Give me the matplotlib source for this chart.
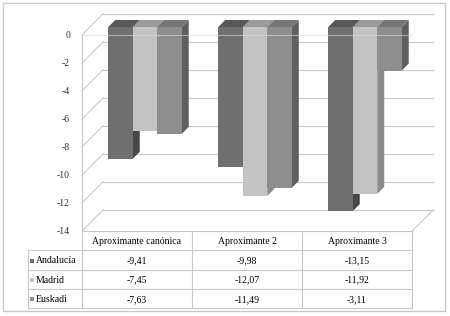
import numpy as np
import matplotlib.pyplot as plt
from matplotlib.patches import Polygon, Rectangle

categorias = ["Aproximante canónica", "Aproximante 2", "Aproximante 3"]
regiones = ["Andalucía", "Madrid", "Euskadi"]
andalucia = [-9.41, -9.98, -13.15]
madrid = [-7.45, -12.07, -11.92]
euskadi = [-7.63, -11.49, -3.11]
yticks = list(range(0, -16, -2))

# colores (frente, arriba, lado)
col_and = ("#6f6f6f", "#575757", "#474747")
col_mad = ("#c3c3c3", "#9a9a9a", "#8a8a8a")
col_eus = ("#8e8e8e", "#777777", "#5f5f5f")
grid = "#c8c8c8"

plt.rcParams['font.family'] = ['Liberation Serif', 'DejaVu Serif']
W, H = 450, 316
fig = plt.figure(figsize=(4.5, 3.16), dpi=100)


def px_axes(x0, y0, x1, y1):
    return fig.add_axes([x0 / W, 1 - y1 / H, (x1 - x0) / W, (y1 - y0) / H])


ax = px_axes(82, 35, 412, 231)
ax.set_xlim(-0.5, 2.5)
ax.set_ylim(-14, 0)
ax.axis('off')

# px -> datos
ux, uy = 110.0, 14.0
dxw, dyw = 21 / ux, 21 / uy      # profundidad de la pared
dxb, dyb = 8 / ux, 8 / uy        # desplazamiento de las barras
dxd, dyd = 7 / ux, 7 / uy        # profundidad de las barras
bw = 24.5 / ux

kw = dict(color=grid, lw=0.8, clip_on=False, zorder=0)
for t in yticks:
    ax.plot([-0.5, -0.5 + dxw], [t, t + dyw], **kw)
    ax.plot([-0.5 + dxw, 2.5 + dxw], [t + dyw, t + dyw], **kw)
    ax.text(-0.5 - 12 / ux, t, str(t), ha='right', va='center',
            fontsize=7, color='#303030')
ax.plot([-0.5, -0.5], [yticks[-1], yticks[0]], **kw)
ax.plot([-0.5, 2.5], [yticks[-1], yticks[-1]], **kw)
ax.plot([2.5, 2.5 + dxw], [yticks[-1], yticks[-1] + dyw], **kw)

x = np.arange(len(categorias))
series = [andalucia, madrid, euskadi]
colores = [col_and, col_mad, col_eus]
for j, (vals, (cf, ct, cs)) in enumerate(zip(series, colores)):
    lefts = x + dxb + (j - 1.5) * bw
    for xl, v in zip(lefts, vals):
        xr = xl + bw
        side = [(xr, dyb + v), (xr, dyb), (xr + dxd, dyb + dyd),
                (xr + dxd, dyb + v + dyd)]
        top = [(xl, dyb), (xr, dyb), (xr + dxd, dyb + dyd),
               (xl + dxd, dyb + dyd)]
        ax.add_patch(Polygon(side, closed=True, fc=cs, ec='none',
                             clip_on=False, zorder=3 * j + 1))
        ax.add_patch(Polygon(top, closed=True, fc=ct, ec='none',
                             clip_on=False, zorder=3 * j + 2))
    ax.bar(lefts, vals, bw, bottom=dyb, align='edge', color=cf,
           clip_on=False, zorder=3 * j + 3)

ax.plot([-0.5, 2.5], [0, 0], color='#d8d8d8', lw=0.8, alpha=0.6,
        clip_on=False, zorder=20)

# tabla de datos
tx = px_axes(28, 231, 412, 308)
xl0 = -0.5 - 54 / ux
tx.set_xlim(xl0, 2.5)
tx.set_ylim(len(regiones) + 1, 0)
tx.axis('off')
lk = dict(color=grid, lw=0.8, clip_on=False)
for r in range(1, len(regiones) + 2):
    tx.plot([xl0, 2.5], [r, r], **lk)
tx.plot([xl0, xl0], [1, len(regiones) + 1], **lk)
for c in np.arange(len(categorias) + 1) - 0.5:
    tx.plot([c, c], [0, len(regiones) + 1], **lk)

for c, nombre in enumerate(categorias):
    tx.text(c, 0.55, nombre, ha='center', va='center', fontsize=7)
for r, (nombre, vals, cols) in enumerate(zip(regiones, series, colores)):
    y = r + 1.55
    tx.add_patch(Rectangle((xl0 + 2 / ux, y - 0.1), 4 / ux, 0.2,
                           fc=cols[0], ec='none', clip_on=False))
    tx.text(xl0 + 8 / ux, y, nombre, ha='left', va='center', fontsize=7)
    for c, v in enumerate(vals):
        tx.text(c, y, f"{v:.2f}".replace('.', ','), ha='center',
                va='center', fontsize=7)

fig.add_artist(Rectangle((3 / W, 1 - 311 / H), 442 / W, 308 / H,
                         transform=fig.transFigure, fill=False,
                         ec='#c8c8c8', lw=1))

fig.savefig('out.png', dpi=100)
